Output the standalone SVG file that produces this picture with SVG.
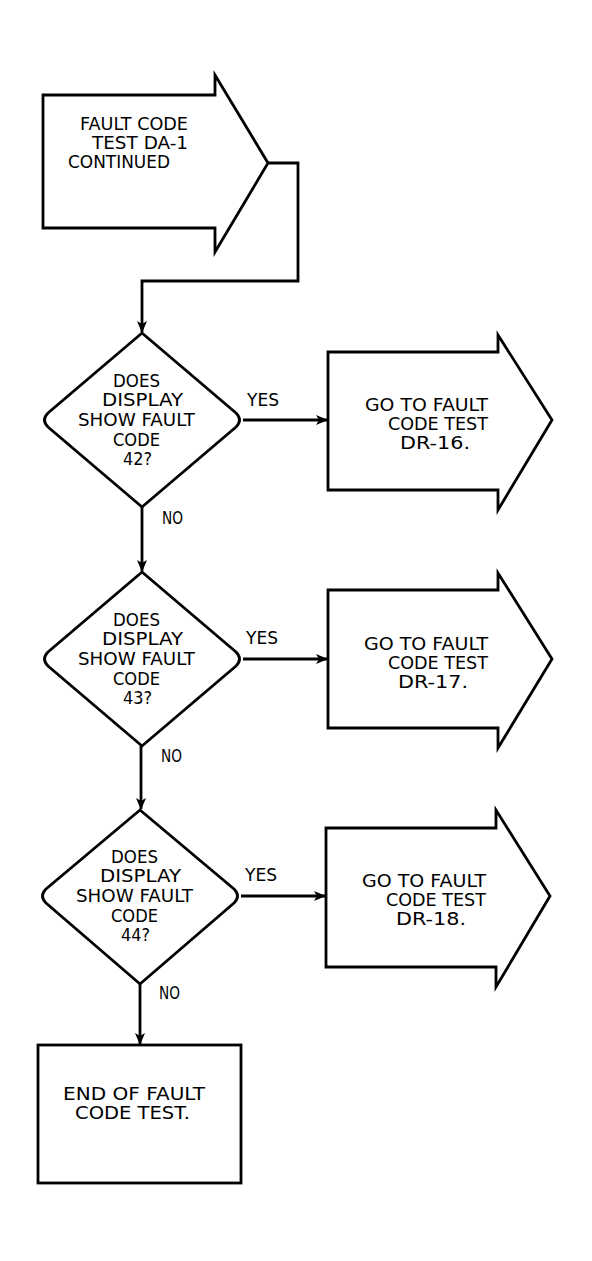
<svg xmlns="http://www.w3.org/2000/svg" width="592" height="1261" viewBox="0 0 592 1261">
<style>
.s{fill:#fff;stroke:#000;stroke-width:2.8;stroke-linejoin:miter}
.c{fill:none;stroke:#000;stroke-width:2.8}
text{font-family:"DejaVu Sans","Liberation Sans",sans-serif;font-size:17px;fill:#000}
</style>
<defs>
<marker id="ah" markerWidth="12" markerHeight="10" refX="11" refY="5" orient="auto" markerUnits="userSpaceOnUse">
<path d="M0,0 L12,5 L0,10 L3,5 Z" fill="#000"/>
</marker>
</defs>
<rect width="592" height="1261" fill="#fff"/>
<g id="connectors">
<path class="c" d="M268,163 H298 V281 H142 V332" marker-end="url(#ah)"/>
<path class="c" d="M243,420 H327" marker-end="url(#ah)"/>
<path class="c" d="M142,507 V571" marker-end="url(#ah)"/>
<path class="c" d="M243,659 H327" marker-end="url(#ah)"/>
<path class="c" d="M141,746 V809" marker-end="url(#ah)"/>
<path class="c" d="M241,896 H325" marker-end="url(#ah)"/>
<path class="c" d="M140,984 V1044" marker-end="url(#ah)"/>
<text x="247" y="406" textLength="32" lengthAdjust="spacingAndGlyphs">YES</text>
<text x="162" y="524" textLength="21" lengthAdjust="spacingAndGlyphs">NO</text>
<text x="246" y="644" textLength="32" lengthAdjust="spacingAndGlyphs">YES</text>
<text x="161" y="762" textLength="21" lengthAdjust="spacingAndGlyphs">NO</text>
<text x="245" y="881" textLength="32" lengthAdjust="spacingAndGlyphs">YES</text>
<text x="159" y="999" textLength="21" lengthAdjust="spacingAndGlyphs">NO</text>
</g>
<g id="start">
<path class="s" d="M43,95 H215 V75 L268,163 L215,252 V228 H43 Z"/>
<text x="80" y="130" textLength="108" lengthAdjust="spacingAndGlyphs">FAULT CODE</text>
<text x="92" y="149" textLength="96" lengthAdjust="spacingAndGlyphs">TEST DA-1</text>
<text x="68" y="168" textLength="102" lengthAdjust="spacingAndGlyphs">CONTINUED</text>
</g>
<g id="d1">
<path class="s" d="M142,333 L236,413 Q243,420 236,427 L142,507 L48,427 Q41,420 48,413 Z"/>
<text x="113" y="387" textLength="47" lengthAdjust="spacingAndGlyphs">DOES</text>
<text x="102" y="406" textLength="81" lengthAdjust="spacingAndGlyphs">DISPLAY</text>
<text x="78" y="426" textLength="117" lengthAdjust="spacingAndGlyphs">SHOW FAULT</text>
<text x="113" y="446" textLength="47" lengthAdjust="spacingAndGlyphs">CODE</text>
<text x="123" y="465" textLength="29" lengthAdjust="spacingAndGlyphs">42?</text>
</g>
<g id="r1">
<path class="s" d="M328,352 H498 V335 L552,420 L498,510 V490 H328 Z"/>
<text x="365" y="411" textLength="123" lengthAdjust="spacingAndGlyphs">GO TO FAULT</text>
<text x="388" y="430" textLength="100" lengthAdjust="spacingAndGlyphs">CODE TEST</text>
<text x="400" y="449" textLength="70" lengthAdjust="spacingAndGlyphs">DR-16.</text>
</g>
<g id="d2">
<path class="s" d="M142,572 L236,652 Q243,659 236,666 L142,746 L48,666 Q41,659 48,652 Z"/>
<text x="113" y="626" textLength="47" lengthAdjust="spacingAndGlyphs">DOES</text>
<text x="102" y="645" textLength="81" lengthAdjust="spacingAndGlyphs">DISPLAY</text>
<text x="78" y="665" textLength="117" lengthAdjust="spacingAndGlyphs">SHOW FAULT</text>
<text x="113" y="685" textLength="47" lengthAdjust="spacingAndGlyphs">CODE</text>
<text x="123" y="704" textLength="29" lengthAdjust="spacingAndGlyphs">43?</text>
</g>
<g id="r2">
<path class="s" d="M328,590 H498 V573 L552,659 L498,748 V728 H328 Z"/>
<text x="364" y="650" textLength="124" lengthAdjust="spacingAndGlyphs">GO TO FAULT</text>
<text x="388" y="669" textLength="100" lengthAdjust="spacingAndGlyphs">CODE TEST</text>
<text x="398" y="688" textLength="70" lengthAdjust="spacingAndGlyphs">DR-17.</text>
</g>
<g id="d3">
<path class="s" d="M140,810 L234,889 Q241,896 234,903 L140,984 L46,903 Q39,896 46,889 Z"/>
<text x="111" y="863" textLength="47" lengthAdjust="spacingAndGlyphs">DOES</text>
<text x="100" y="882" textLength="81" lengthAdjust="spacingAndGlyphs">DISPLAY</text>
<text x="76" y="902" textLength="117" lengthAdjust="spacingAndGlyphs">SHOW FAULT</text>
<text x="111" y="922" textLength="47" lengthAdjust="spacingAndGlyphs">CODE</text>
<text x="121" y="941" textLength="29" lengthAdjust="spacingAndGlyphs">44?</text>
</g>
<g id="r3">
<path class="s" d="M326,828 H496 V810 L550,896 L496,987 V967 H326 Z"/>
<text x="362" y="887" textLength="124" lengthAdjust="spacingAndGlyphs">GO TO FAULT</text>
<text x="386" y="906" textLength="100" lengthAdjust="spacingAndGlyphs">CODE TEST</text>
<text x="396" y="925" textLength="70" lengthAdjust="spacingAndGlyphs">DR-18.</text>
</g>
<g id="end">
<rect class="s" x="38" y="1045" width="203" height="138"/>
<text x="63" y="1100" textLength="142" lengthAdjust="spacingAndGlyphs">END OF FAULT</text>
<text x="75" y="1119" textLength="115" lengthAdjust="spacingAndGlyphs">CODE TEST.</text>
</g>
</svg>
